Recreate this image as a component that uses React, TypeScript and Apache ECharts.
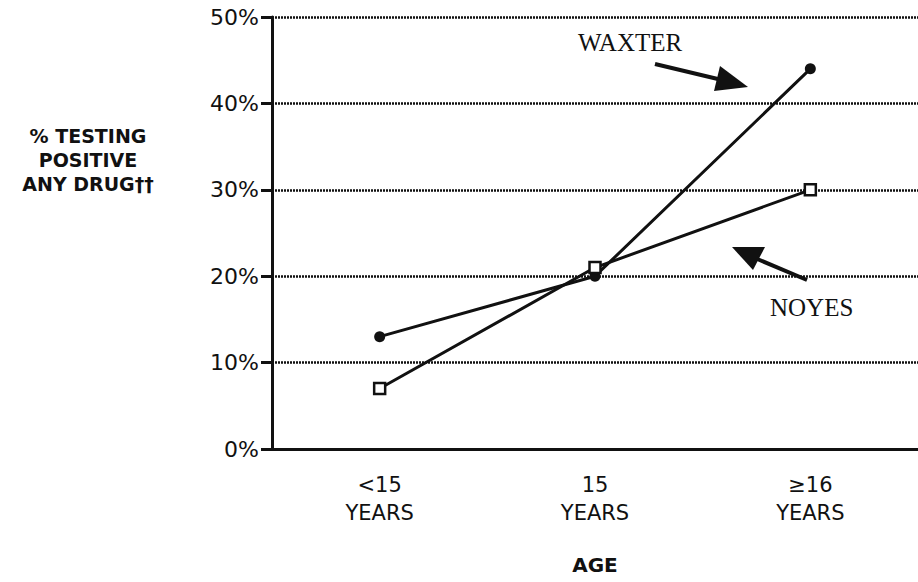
import React, { useEffect, useRef } from "react";
import * as echarts from "echarts";

const categories = ["<15\nYEARS", "15\nYEARS", "≥16\nYEARS"];
const waxter = [13, 20, 44];
const noyes = [7, 21, 30];
const yTicks = { min: 0, max: 50, interval: 10 };

export default function App() {
  const ref = useRef<HTMLDivElement>(null);
  useEffect(() => {
    if (!ref.current) return;
    const chart = echarts.init(ref.current, null, { renderer: "svg" });
    const sans = "DejaVu Sans";
    const serif = "Liberation Serif";
    const option: any = {
      animation: false,
      backgroundColor: "#ffffff",
      grid: { left: 272, right: 0, top: 17, bottom: 133 },
      xAxis: {
        type: "category",
        data: categories,
        boundaryGap: true,
        name: "AGE",
        nameLocation: "middle",
        nameGap: 106,
        nameTextStyle: { fontFamily: sans, fontSize: 20, fontWeight: "bold", color: "#111" },
        axisLine: { lineStyle: { color: "#111", width: 3 } },
        axisTick: { alignWithLabel: true, length: 8, lineStyle: { color: "#111", width: 3 } },
        axisLabel: { fontFamily: sans, fontSize: 21, color: "#111", lineHeight: 28, margin: 22 },
        splitLine: { show: false },
      },
      yAxis: {
        type: "value",
        min: yTicks.min,
        max: yTicks.max,
        interval: yTicks.interval,
        axisLine: { show: true, lineStyle: { color: "#111", width: 3 } },
        axisTick: { show: true, length: 11, lineStyle: { color: "#111", width: 3 } },
        axisLabel: { formatter: "{value}%", fontFamily: sans, fontSize: 22, color: "#111", margin: 13 },
        splitLine: { show: true, lineStyle: { color: "#111", width: 2.5, type: [2, 1] } },
      },
      series: [
        {
          name: "WAXTER",
          type: "line",
          data: waxter,
          symbol: "circle",
          symbolSize: 11,
          itemStyle: { color: "#111" },
          lineStyle: { color: "#111", width: 3 },
          z: 3,
        },
        {
          name: "NOYES",
          type: "line",
          data: noyes,
          symbol: "rect",
          symbolSize: 11,
          itemStyle: { color: "#fff", borderColor: "#111", borderWidth: 2.5 },
          lineStyle: { color: "#111", width: 3 },
          z: 4,
        },
      ],
      graphic: [
        {
          type: "text",
          x: 88,
          y: 124,
          style: {
            text: "% TESTING\nPOSITIVE\nANY DRUG††",
            fontFamily: sans,
            fontSize: 19,
            fontWeight: "bold",
            fill: "#111",
            align: "center",
            verticalAlign: "top",
            lineHeight: 24,
          },
        },
        {
          type: "text",
          x: 578,
          y: 42,
          style: { text: "WAXTER", fontFamily: serif, fontSize: 25, fill: "#111", verticalAlign: "middle" },
        },
        {
          type: "line",
          shape: { x1: 655, y1: 64, x2: 722, y2: 80 },
          style: { stroke: "#111", lineWidth: 4 },
        },
        {
          type: "polygon",
          shape: { points: [[748, 87], [720, 66], [714, 91]] },
          style: { fill: "#111" },
        },
        {
          type: "text",
          x: 770,
          y: 307,
          style: { text: "NOYES", fontFamily: serif, fontSize: 25, fill: "#111", verticalAlign: "middle" },
        },
        {
          type: "line",
          shape: { x1: 807, y1: 280, x2: 755, y2: 258 },
          style: { stroke: "#111", lineWidth: 4 },
        },
        {
          type: "polygon",
          shape: { points: [[732, 247], [765, 247], [753, 270]] },
          style: { fill: "#111" },
        },
      ],
    };
    chart.setOption(option);
    return () => chart.dispose();
  }, []);
  return <div ref={ref} style={{ width: 918, height: 582, position: "absolute", left: 0, top: 0 }} />;
}
